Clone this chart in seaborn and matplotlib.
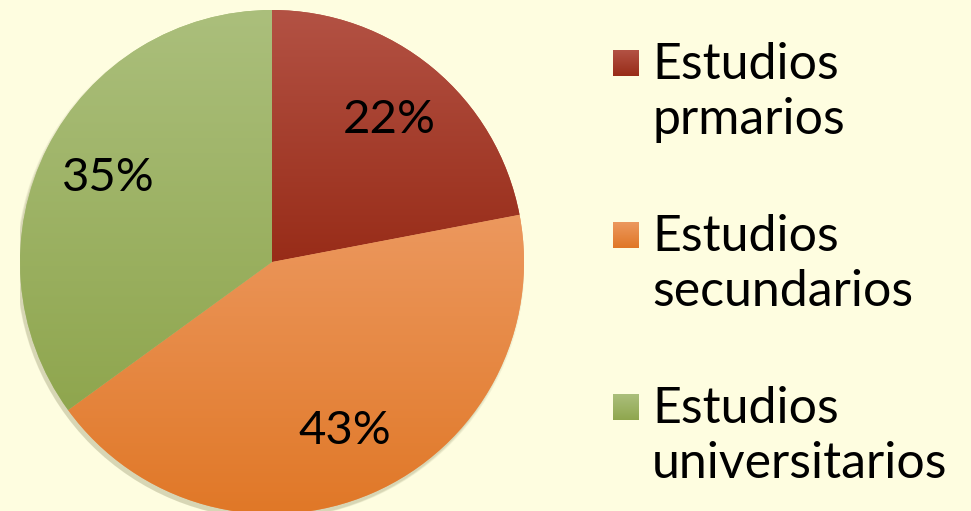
import numpy as np
import matplotlib.pyplot as plt
import seaborn as sns
from matplotlib.colors import LinearSegmentedColormap

# datos
categorias = [["Estudios", "prmarios"], ["Estudios", "secundarios"], ["Estudios", "universitarios"]]
porcentajes = [22, 43, 35]

# colores (arriba / abajo del degradado)
col_arriba = ["#B35244", "#EC985E", "#ABBF7C"]
col_abajo = ["#982C18", "#E07726", "#8FA64E"]
fondo = "#FEFDE0"

sns.set_theme(style="white")
plt.rcParams['font.family'] = ['Lato', 'DejaVu Sans']

fig = plt.figure(figsize=(9.71, 5.11), dpi=100, facecolor=fondo)
# el pie va de x=20 a 524 px y de y=10 a 514 px
ax = fig.add_axes([20 / 971, -3 / 511, 504 / 971, 504 / 511])
ax.set_facecolor(fondo)

wedges, textos = ax.pie(porcentajes, startangle=90, counterclock=False,
                        colors=col_arriba, radius=1,
                        wedgeprops=dict(linewidth=0))
ax.set_aspect("equal")
ax.axis("off")

# sombra suave (hacia abajo a la izquierda)
for k, a in enumerate([0.10, 0.12, 0.15]):
    sombra = plt.Circle((-0.006 - 0.002 * k, -0.012 - 0.003 * k), 1.0 + 0.004 * (2 - k),
                        color="#8a8a60", alpha=a, zorder=0, lw=0)
    ax.add_patch(sombra)

# degradado vertical en cada porcion
for w, c1, c2 in zip(wedges, col_arriba, col_abajo):
    v = w.get_path().vertices
    y0, y1 = v[:, 1].min(), v[:, 1].max()
    cmap = LinearSegmentedColormap.from_list("g", [c2, c1])
    grad = np.linspace(0, 1, 256).reshape(-1, 1)
    im = ax.imshow(grad, cmap=cmap, extent=[-1, 1, y0, y1], origin="lower",
                   aspect="auto", zorder=2)
    im.set_clip_path(w)

# etiquetas de porcentaje
ang = 90.0
for p in porcentajes:
    medio = np.deg2rad(ang - p * 3.6 / 2)
    ang -= p * 3.6
    ax.text(0.73 * np.cos(medio), 0.73 * np.sin(medio), f"{p}%",
            ha="center", va="center", fontsize=34, color="black", zorder=5)
ax.set_xlim(-1, 1)
ax.set_ylim(-1, 1)

# leyenda manual (linea base de cada entrada en px)
bases = [79, 251, 423]
for yb, lab, c1, c2 in zip(bases, categorias, col_arriba, col_abajo):
    cmap = LinearSegmentedColormap.from_list("g", [c2, c1])
    cax = fig.add_axes([613 / 971, 1 - (yb - 3) / 511, 26 / 971, 26 / 511])
    cax.imshow(np.linspace(0, 1, 64).reshape(-1, 1), cmap=cmap, origin="lower",
               aspect="auto")
    cax.axis("off")
    for i, linea in enumerate(lab):
        fig.text(652 / 971, 1 - (yb + 55 * i) / 511, linea, ha="left",
                 va="baseline", fontsize=36, color="black")

fig.savefig("out.png", dpi=100, facecolor=fondo)
